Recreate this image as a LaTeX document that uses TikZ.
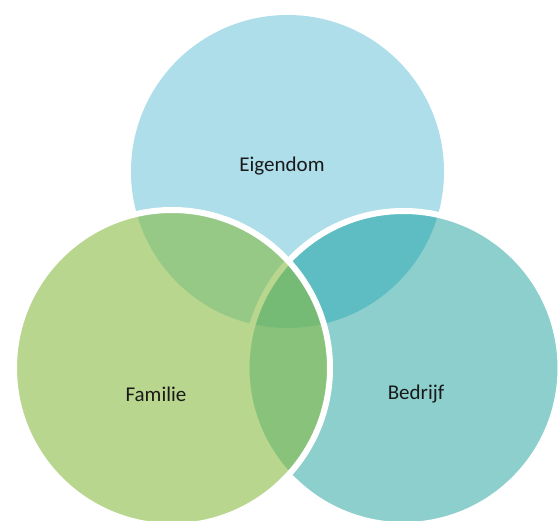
\documentclass[tikz,border=0pt]{standalone}
\usepackage{fontspec}
\setmainfont{Carlito}
\definecolor{topblue}{RGB}{173,222,234}
\definecolor{tealc}{RGB}{0,150,146}
\definecolor{greenc}{RGB}{136,186,62}
\tikzset{
  vennlabel/.style={font=\fontsize{21}{25}\selectfont, text=black!90},
  ring/.style={draw=white, line width=6pt}
}
\begin{document}
\begin{tikzpicture}[x=1pt,y=-1pt]
\useasboundingbox (0,0) rectangle (559,520);
\clip (0,0) rectangle (559,520);
\fill[white] (0,0) rectangle (559,520);
\coordinate (ctop) at (287.5,171.5);
\coordinate (cright) at (403.5,368);
\coordinate (cleft) at (172,368);
\fill[topblue] (ctop) circle (156.5);
\path[ring, fill=tealc, fill opacity=0.45] (cright) circle (157);
\path[ring, fill=greenc, fill opacity=0.58] (cleft) circle (158);
\node[vennlabel] (eig) at (282,166) {Eigendom};
\node[vennlabel] (fam) at (156,394) {Familie};
\node[vennlabel] (bed) at (416,394) {Bedrijf};
\end{tikzpicture}
\end{document}
